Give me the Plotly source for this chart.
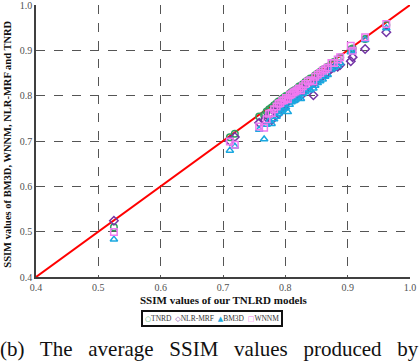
import plotly.graph_objects as go

# SSIM of our TNLRD models (x) vs. competing methods (y)
tnlrd = [0.525, 0.711, 0.719, 0.758, 0.766, 0.770, 0.774, 0.778, 0.782, 0.786,
         0.789, 0.792, 0.795, 0.798, 0.801, 0.804, 0.807, 0.810, 0.813, 0.816,
         0.819, 0.822, 0.825, 0.828, 0.832, 0.836, 0.840, 0.845, 0.848, 0.852,
         0.856, 0.860, 0.864, 0.868, 0.874, 0.878, 0.884, 0.888, 0.905, 0.908,
         0.928, 0.962]
tnrd = [0.510, 0.708, 0.716, 0.754, 0.757, 0.765, 0.770, 0.774, 0.779, 0.783,
        0.787, 0.789, 0.793, 0.796, 0.799, 0.800, 0.805, 0.808, 0.811, 0.813,
        0.816, 0.820, 0.822, 0.825, 0.830, 0.834, 0.838, 0.840, 0.845, 0.849,
        0.853, 0.857, 0.860, 0.864, 0.870, 0.874, 0.880, 0.884, 0.902, 0.904,
        0.925, 0.956]
nlr_mrf = [0.524, 0.700, 0.709, 0.740, 0.745, 0.752, 0.758, 0.746, 0.766, 0.770,
           0.760, 0.775, 0.778, 0.776, 0.785, 0.788, 0.790, 0.794, 0.797, 0.800,
           0.795, 0.806, 0.800, 0.812, 0.815, 0.820, 0.822, 0.801, 0.830, 0.835,
           0.840, 0.844, 0.848, 0.852, 0.860, 0.862, 0.864, 0.868, 0.876, 0.885,
           0.903, 0.940]
bm3d = [0.483, 0.679, 0.688, 0.725, 0.704, 0.736, 0.744, 0.738, 0.748, 0.754,
        0.760, 0.764, 0.768, 0.772, 0.774, 0.764, 0.780, 0.786, 0.788, 0.790,
        0.794, 0.798, 0.793, 0.804, 0.808, 0.812, 0.812, 0.816, 0.822, 0.828,
        0.832, 0.836, 0.842, 0.846, 0.858, 0.862, 0.866, 0.872, 0.896, 0.898,
        0.923, 0.949]
wnnm = [0.499, 0.699, 0.692, 0.732, 0.729, 0.748, 0.760, 0.762, 0.770, 0.776,
        0.782, 0.784, 0.789, 0.790, 0.795, 0.792, 0.801, 0.803, 0.807, 0.809,
        0.812, 0.816, 0.812, 0.821, 0.826, 0.831, 0.834, 0.832, 0.842, 0.846,
        0.850, 0.855, 0.858, 0.862, 0.872, 0.872, 0.880, 0.885, 0.910, 0.899,
        0.929, 0.958]
diag = [0.4, 1.0]

series = [
    ("TNRD", tnrd, "circle-open", "#2f9e5e", "○"),
    ("NLR-MRF", nlr_mrf, "diamond-open", "#7434a6", "◇"),
    ("BM3D", bm3d, "triangle-up-open", "#1aa8e0", "▲"),
    ("WNNM", wnnm, "square-open", "#f07af0", "□"),
]

serif = "Times New Roman, Liberation Serif, serif"

fig = go.Figure()

fig.add_trace(go.Scatter(x=diag, y=diag, mode="lines",
                         line=dict(color="#ff0000", width=2), showlegend=False))

for name, vals, sym, col, g in series:
    fig.add_trace(go.Scatter(x=tnlrd, y=vals, mode="markers", name=name,
                             marker=dict(symbol=sym, size=6.5, color=col,
                                         line=dict(width=1.5, color=col)),
                             showlegend=False))

axis_font = dict(family=serif, size=10, color="#505050")
for upd in (fig.update_xaxes, fig.update_yaxes):
    upd(range=[0.4, 1.0], dtick=0.1, tickformat=".1f", tickfont=axis_font,
        showgrid=True, gridcolor="#555555", griddash="dash", gridwidth=1,
        showline=True, linecolor="#404040", linewidth=1.5,
        zeroline=False, ticks="", automargin=False, ticklabeloverflow="allow")

# compact bordered legend built as an annotation
legend_txt = "  ".join(
    "<span style='color:%s;font-family:DejaVu Sans;font-size:7px'>%s</span>%s" % (col, g, name)
    for name, _, _, col, g in series)

fig.update_layout(
    width=420, height=362,
    margin=dict(l=36, r=10, t=5, b=85),
    plot_bgcolor="white", paper_bgcolor="white",
    font=dict(family=serif),
    annotations=[
        dict(text="<b>SSIM values of BM3D, WNNM, NLR-MRF and TNRD</b>",
             xref="paper", yref="paper", x=-0.075, y=0.49, textangle=-90,
             xanchor="center", yanchor="middle",
             showarrow=False, font=dict(family=serif, size=10.5, color="#111111")),
        dict(text="<b>SSIM values of our TNLRD models</b>",
             xref="paper", yref="paper", x=0.5, y=-0.085, yanchor="middle",
             showarrow=False, font=dict(family=serif, size=11, color="#111111")),
        dict(text=legend_txt, xref="paper", yref="paper", x=0.47, y=-0.151,
             yanchor="middle",
             showarrow=False, bordercolor="#111111", borderwidth=2, borderpad=2,
             font=dict(family=serif, size=7.5, color="#333333")),
        dict(text="(b)   The   average   SSIM   values   produced   by",
             xref="paper", yref="paper", x=0.463, y=-0.265, xanchor="center",
             yanchor="middle",
             showarrow=False, font=dict(family=serif, size=21, color="#111111")),
    ],
)

# drop the default page margin so the figure sits at the window's corner
fig.write_html("out.html", config={"displayModeBar": False},
               post_script="document.body.style.margin='0';")
